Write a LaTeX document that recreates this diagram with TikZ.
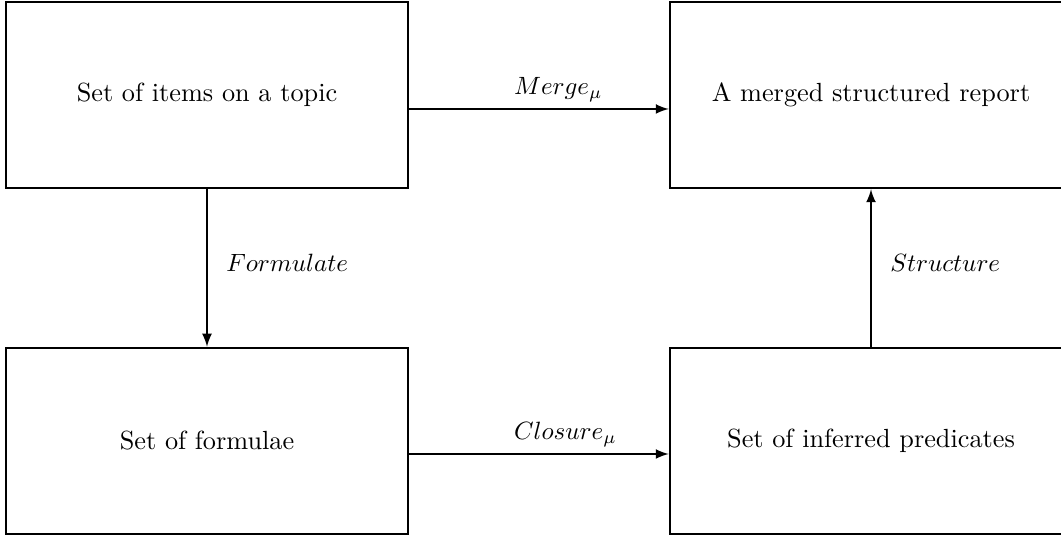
\documentclass[tikz,border=0pt]{standalone}
\usetikzlibrary{arrows}

\begin{document}
\begin{tikzpicture}[x=0.4pt, y=-0.4pt]
	\tikzstyle{stage} = [rectangle, draw, line width=1pt, minimum width=160.8pt, minimum height=74.4pt, inner sep=0pt, align=center, font=\fontsize{10.5pt}{12pt}\selectfont]
	\tikzstyle{edge} = [thick, ->, >=latex]
	\tikzstyle{edge_label} = [pos=0.4, anchor=base west, inner sep=0pt, yshift=5.8pt]
	\useasboundingbox (0,0) rectangle (1061,537);

	\foreach \name/\x/\y/\txt in {items/207/95/Set of items on a topic, report/871/95/A merged structured report, formulae/207/441/Set of formulae, predicates/871/441/Set of inferred predicates}
		\node[stage] (\name) at (\x, \y) {\txt};

	\draw[edge] ([yshift=-5.6pt]items.east) -- node[edge_label] {$Merge_\mu$} ([yshift=-5.6pt]report.west);
	\draw[edge] ([yshift=-5.2pt]formulae.east) -- node[edge_label] {$Closure_\mu$} ([yshift=-5.2pt]predicates.west);

	%vertical steps
	\draw[edge] (items) -- node[right, xshift=4pt, yshift=2pt] {$Formulate$} (formulae);
	\draw[edge] (predicates) -- node[right, xshift=4pt, yshift=2pt] {$Structure$} (report);

\end{tikzpicture}
\end{document}
